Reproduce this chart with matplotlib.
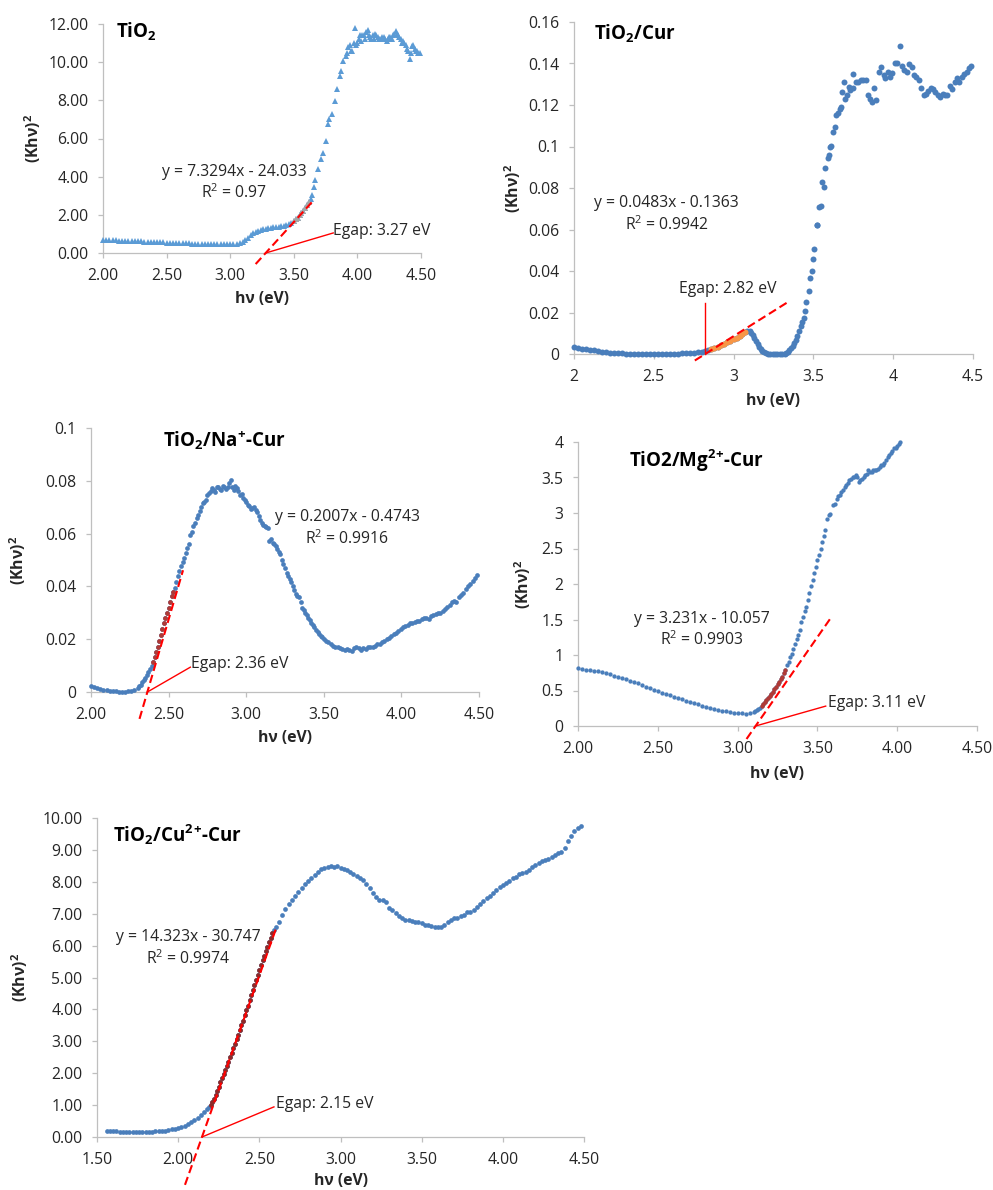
import matplotlib
matplotlib.use("Agg")
import matplotlib.pyplot as plt
import numpy as np

plt.rcParams['font.family'] = ['Open Sans', 'DejaVu Sans']
plt.rcParams['mathtext.default'] = 'regular'

# ------------------------------------------------------------------ data
# Panel 1 : TiO2
tio2_x = [2.000, 2.025, 2.050, 2.075, 2.100, 2.125, 2.150, 2.175, 2.200, 2.225,
          2.250, 2.275, 2.300, 2.325, 2.350, 2.375, 2.400, 2.425, 2.450, 2.475,
          2.500, 2.525, 2.550, 2.575, 2.600, 2.625, 2.650, 2.675, 2.700, 2.725,
          2.750, 2.775, 2.800, 2.825, 2.850, 2.875, 2.900, 2.925, 2.950, 2.975,
          3.000, 3.025, 3.050, 3.075, 3.100, 3.120, 3.140, 3.160, 3.180, 3.200,
          3.220, 3.240, 3.260, 3.280, 3.300, 3.320, 3.340, 3.360, 3.380, 3.400,
          3.420, 3.440, 3.460, 3.480, 3.500, 3.515, 3.530, 3.545, 3.560, 3.575,
          3.590, 3.605, 3.620, 3.635, 3.645, 3.660, 3.670, 3.690, 3.710, 3.730,
          3.750, 3.770, 3.780, 3.800, 3.820, 3.840, 3.860, 3.870, 3.890, 3.910,
          3.920, 3.930, 3.940, 3.950, 3.960, 3.970, 3.980, 3.990, 4.000, 4.010,
          4.020, 4.030, 4.040, 4.050, 4.060, 4.070, 4.080, 4.090, 4.100, 4.110,
          4.120, 4.130, 4.140, 4.150, 4.160, 4.170, 4.180, 4.190, 4.200, 4.210,
          4.220, 4.230, 4.240, 4.250, 4.260, 4.270, 4.280, 4.290, 4.300, 4.310,
          4.320, 4.330, 4.340, 4.350, 4.360, 4.370, 4.380, 4.390, 4.400, 4.410,
          4.420, 4.430, 4.440, 4.450, 4.460, 4.470, 4.480, 4.490]
tio2_y = [0.68, 0.67, 0.67, 0.66, 0.66, 0.65, 0.65, 0.64, 0.63, 0.63,
          0.62, 0.61, 0.61, 0.60, 0.59, 0.59, 0.58, 0.57, 0.57, 0.56,
          0.55, 0.55, 0.54, 0.53, 0.52, 0.51, 0.50, 0.50, 0.49, 0.49,
          0.48, 0.48, 0.48, 0.48, 0.48, 0.48, 0.48, 0.48, 0.48, 0.48,
          0.48, 0.48, 0.49, 0.52, 0.60, 0.68, 0.80, 0.92, 1.03, 1.10,
          1.16, 1.21, 1.25, 1.28, 1.31, 1.33, 1.35, 1.37, 1.38, 1.40,
          1.42, 1.45, 1.50, 1.58, 1.68, 1.76, 1.86, 1.97, 2.10, 2.22,
          2.36, 2.50, 2.66, 2.85, 3.06, 3.45, 3.85, 4.38, 4.90, 5.25,
          5.87, 6.74, 7.00, 7.27, 7.97, 8.58, 9.28, 9.55, 10.07, 10.30,
          10.50, 10.77, 10.90, 10.60, 10.60, 11.00, 11.80, 10.90, 11.00, 11.20,
          11.40, 11.10, 11.40, 11.40, 11.20, 11.60, 11.70, 11.40, 11.30, 11.20,
          11.40, 11.20, 11.50, 11.40, 11.30, 11.20, 11.20, 11.30, 11.20, 11.30,
          11.20, 11.10, 11.20, 11.30, 11.30, 11.20, 11.40, 11.50, 11.65, 11.50,
          11.40, 11.30, 11.20, 11.00, 11.10, 11.00, 10.90, 10.70, 10.60, 10.15,
          10.50, 10.85, 10.90, 10.70, 10.60, 10.60, 10.50, 10.50]

# Panel 2 : TiO2/Cur
cur_x = [2.000, 2.025, 2.050, 2.075, 2.100, 2.125, 2.150, 2.175, 2.200, 2.225,
         2.250, 2.275, 2.300, 2.325, 2.350, 2.375, 2.400, 2.425, 2.450, 2.475,
         2.500, 2.525, 2.550, 2.575, 2.600, 2.625, 2.650, 2.675, 2.700, 2.725,
         2.750, 2.775, 2.800, 2.820, 2.840, 2.860, 2.880, 2.900, 2.920, 2.940,
         2.960, 2.980, 3.000, 3.020, 3.040, 3.055, 3.070, 3.085, 3.100, 3.110,
         3.120, 3.130, 3.140, 3.150, 3.160, 3.170, 3.180, 3.190, 3.200, 3.215,
         3.230, 3.245, 3.260, 3.275, 3.290, 3.305, 3.320, 3.330, 3.340, 3.350,
         3.360, 3.370, 3.380, 3.390, 3.400, 3.410, 3.420, 3.430, 3.440, 3.450,
         3.455, 3.470, 3.480, 3.490, 3.500, 3.505, 3.520, 3.525, 3.535, 3.545,
         3.555, 3.565, 3.575, 3.590, 3.595, 3.605, 3.610, 3.625, 3.635, 3.640,
         3.655, 3.665, 3.675, 3.680, 3.690, 3.700, 3.710, 3.725, 3.730, 3.745,
         3.750, 3.765, 3.780, 3.800, 3.810, 3.830, 3.840, 3.855, 3.870, 3.880,
         3.895, 3.910, 3.925, 3.940, 3.950, 3.965, 3.980, 3.995, 4.010, 4.025,
         4.040, 4.055, 4.070, 4.085, 4.100, 4.115, 4.130, 4.145, 4.160, 4.175,
         4.190, 4.205, 4.220, 4.235, 4.250, 4.265, 4.280, 4.295, 4.310, 4.325,
         4.340, 4.355, 4.370, 4.385, 4.400, 4.415, 4.430, 4.445, 4.460, 4.475,
         4.490]
cur_y = [0.0032, 0.0029, 0.0026, 0.0023, 0.0020, 0.0017, 0.0014, 0.0011, 0.0009, 0.0007,
         0.0005, 0.0004, 0.0003, 0.0002, 0.0002, 0.0002, 0.0002, 0.0002, 0.0002, 0.0002,
         0.0002, 0.0002, 0.0002, 0.0002, 0.0002, 0.0002, 0.0002, 0.0003, 0.0004, 0.0005,
         0.0007, 0.0009, 0.0012, 0.0015, 0.0019, 0.0024, 0.0030, 0.0036, 0.0043, 0.0050,
         0.0057, 0.0064, 0.0070, 0.0077, 0.0085, 0.0095, 0.0105, 0.0113, 0.0110, 0.0102,
         0.0090, 0.0076, 0.0062, 0.0048, 0.0036, 0.0025, 0.0016, 0.0009, 0.0005, 0.0002,
         0.0001, 0.0001, 0.0001, 0.0001, 0.0001, 0.0001, 0.0002, 0.0005, 0.0010, 0.0018,
         0.0028, 0.0040, 0.0055, 0.0068, 0.0085, 0.0110, 0.0133, 0.0152, 0.0173, 0.0205,
         0.0253, 0.0306, 0.0366, 0.0398, 0.0457, 0.0505, 0.0622, 0.0622, 0.0710, 0.0713,
         0.0830, 0.0806, 0.0895, 0.0943, 0.0960, 0.1000, 0.1004, 0.1070, 0.1095, 0.1150,
         0.1160, 0.1180, 0.1190, 0.1263, 0.1310, 0.1230, 0.1247, 0.1287, 0.1270, 0.1348,
         0.1280, 0.1310, 0.1310, 0.1320, 0.1322, 0.1320, 0.1247, 0.1230, 0.1215, 0.1280,
         0.1226, 0.1360, 0.1384, 0.1343, 0.1328, 0.1360, 0.1335, 0.1355, 0.1400, 0.1400,
         0.1485, 0.1390, 0.1368, 0.1360, 0.1396, 0.1384, 0.1343, 0.1335, 0.1320, 0.1284,
         0.1247, 0.1255, 0.1268, 0.1284, 0.1275, 0.1263, 0.1247, 0.1240, 0.1255, 0.1247,
         0.1247, 0.1290, 0.1275, 0.1310, 0.1332, 0.1310, 0.1335, 0.1348, 0.1360, 0.1376,
         0.1390]

# Panel 3 : TiO2/Na+-Cur
na_x = [2.00, 2.02, 2.04, 2.06, 2.08, 2.10, 2.12, 2.14, 2.16, 2.18,
        2.20, 2.22, 2.24, 2.26, 2.28, 2.30, 2.31, 2.32, 2.33, 2.34,
        2.35, 2.36, 2.37, 2.38, 2.39, 2.40, 2.41, 2.42, 2.43, 2.44,
        2.45, 2.46, 2.47, 2.48, 2.49, 2.50, 2.51, 2.52, 2.53, 2.54,
        2.55, 2.56, 2.57, 2.58, 2.59, 2.60, 2.61, 2.62, 2.63, 2.64,
        2.65, 2.66, 2.67, 2.68, 2.69, 2.70, 2.71, 2.72, 2.73, 2.74,
        2.75, 2.76, 2.77, 2.78, 2.79, 2.80, 2.81, 2.82, 2.83, 2.84,
        2.85, 2.86, 2.87, 2.88, 2.89, 2.90, 2.91, 2.92, 2.93, 2.94,
        2.95, 2.96, 2.97, 2.98, 2.99, 3.00, 3.01, 3.02, 3.03, 3.04,
        3.05, 3.06, 3.07, 3.08, 3.09, 3.10, 3.11, 3.12, 3.13, 3.14,
        3.15, 3.16, 3.17, 3.18, 3.19, 3.20, 3.21, 3.22, 3.23, 3.24,
        3.25, 3.26, 3.27, 3.28, 3.29, 3.30, 3.31, 3.32, 3.33, 3.34,
        3.35, 3.36, 3.37, 3.38, 3.39, 3.40, 3.41, 3.42, 3.43, 3.44,
        3.45, 3.46, 3.47, 3.48, 3.49, 3.50, 3.515, 3.53, 3.545, 3.56,
        3.575, 3.59, 3.605, 3.62, 3.635, 3.65, 3.665, 3.68, 3.695, 3.71,
        3.725, 3.74, 3.755, 3.77, 3.785, 3.80, 3.815, 3.83, 3.845, 3.86,
        3.875, 3.89, 3.905, 3.92, 3.935, 3.95, 3.965, 3.98, 3.995, 4.01,
        4.025, 4.04, 4.055, 4.07, 4.085, 4.10, 4.115, 4.13, 4.145, 4.16,
        4.175, 4.19, 4.205, 4.22, 4.235, 4.25, 4.265, 4.28, 4.295, 4.31,
        4.325, 4.34, 4.355, 4.37, 4.385, 4.40, 4.415, 4.43, 4.445, 4.46,
        4.475, 4.49]
na_y = [0.0021, 0.0019, 0.0015, 0.0012, 0.0009, 0.0006, 0.0004, 0.0003, 0.0002, 0.0001,
        0.0001, 0.0001, 0.0002, 0.0004, 0.0008, 0.0015, 0.0021, 0.0028, 0.0036, 0.0044,
        0.0053, 0.0063, 0.0075, 0.0088, 0.0100, 0.0113, 0.0131, 0.0150, 0.0172, 0.0194,
        0.0216, 0.0238, 0.0260, 0.0282, 0.0301, 0.0320, 0.0342, 0.0364, 0.0380, 0.0395,
        0.0417, 0.0439, 0.0458, 0.0477, 0.0492, 0.0508, 0.0527, 0.0546, 0.0560, 0.0596,
        0.0605, 0.0627, 0.0640, 0.0659, 0.0670, 0.0684, 0.0700, 0.0715, 0.0720, 0.0728,
        0.0745, 0.0753, 0.0760, 0.0772, 0.0765, 0.0759, 0.0775, 0.0778, 0.0770, 0.0765,
        0.0780, 0.0778, 0.0770, 0.0778, 0.0790, 0.0803, 0.0775, 0.0765, 0.0780, 0.0772,
        0.0760, 0.0747, 0.0750, 0.0734, 0.0728, 0.0721, 0.0710, 0.0703, 0.0695, 0.0696,
        0.0700, 0.0690, 0.0680, 0.0665, 0.0650, 0.0640, 0.0632, 0.0627, 0.0625, 0.0621,
        0.0571, 0.0580, 0.0565, 0.0560, 0.0552, 0.0540, 0.0530, 0.0521, 0.0500, 0.0483,
        0.0470, 0.0452, 0.0440, 0.0427, 0.0415, 0.0402, 0.0385, 0.0370, 0.0362, 0.0358,
        0.0340, 0.0320, 0.0310, 0.0301, 0.0290, 0.0282, 0.0272, 0.0263, 0.0255, 0.0245,
        0.0235, 0.0226, 0.0220, 0.0213, 0.0207, 0.0201, 0.0195, 0.0188, 0.0180, 0.0176,
        0.0172, 0.0169, 0.0165, 0.0163, 0.0160, 0.0163, 0.0158, 0.0157, 0.0165, 0.0172,
        0.0168, 0.0159, 0.0165, 0.0163, 0.0170, 0.0169, 0.0172, 0.0176, 0.0180, 0.0182,
        0.0190, 0.0194, 0.0200, 0.0205, 0.0212, 0.0220, 0.0225, 0.0232, 0.0238, 0.0245,
        0.0250, 0.0255, 0.0260, 0.0263, 0.0266, 0.0270, 0.0268, 0.0276, 0.0280, 0.0282,
        0.0275, 0.0289, 0.0290, 0.0295, 0.0298, 0.0301, 0.0305, 0.0314, 0.0322, 0.0330,
        0.0340, 0.0345, 0.0340, 0.0358, 0.0368, 0.0376, 0.0390, 0.0402, 0.0410, 0.0420,
        0.0432, 0.0445]

# Panel 4 : TiO2/Mg2+-Cur
mg_x = [2.000, 2.025, 2.050, 2.075, 2.100, 2.125, 2.150, 2.175, 2.200, 2.225,
        2.250, 2.275, 2.300, 2.325, 2.350, 2.375, 2.400, 2.425, 2.450, 2.475,
        2.500, 2.525, 2.550, 2.575, 2.600, 2.625, 2.650, 2.675, 2.700, 2.725,
        2.750, 2.775, 2.800, 2.825, 2.850, 2.875, 2.900, 2.925, 2.950, 2.975,
        3.000, 3.025, 3.050, 3.075, 3.100, 3.110, 3.120, 3.130, 3.140, 3.150,
        3.160, 3.170, 3.180, 3.190, 3.200, 3.210, 3.220, 3.230, 3.240, 3.250,
        3.260, 3.270, 3.280, 3.290, 3.300, 3.310, 3.320, 3.330, 3.340, 3.350,
        3.360, 3.370, 3.380, 3.390, 3.400, 3.410, 3.420, 3.430, 3.440, 3.450,
        3.460, 3.470, 3.480, 3.490, 3.500, 3.510, 3.520, 3.530, 3.540, 3.550,
        3.560, 3.570, 3.580, 3.600, 3.610, 3.620, 3.630, 3.640, 3.650, 3.660,
        3.670, 3.680, 3.690, 3.700, 3.710, 3.720, 3.730, 3.740, 3.750, 3.760,
        3.770, 3.780, 3.790, 3.800, 3.810, 3.820, 3.830, 3.840, 3.850, 3.860,
        3.870, 3.880, 3.890, 3.900, 3.910, 3.920, 3.930, 3.940, 3.950, 3.960,
        3.970, 3.980, 3.990, 4.000, 4.010, 4.020]
mg_y = [0.81, 0.80, 0.79, 0.785, 0.78, 0.77, 0.76, 0.745, 0.73, 0.71,
        0.69, 0.675, 0.66, 0.64, 0.62, 0.60, 0.58, 0.555, 0.53, 0.51,
        0.49, 0.47, 0.45, 0.43, 0.41, 0.39, 0.375, 0.357, 0.34, 0.322,
        0.305, 0.287, 0.27, 0.257, 0.245, 0.23, 0.215, 0.205, 0.197, 0.19,
        0.183, 0.178, 0.174, 0.177, 0.195, 0.21, 0.225, 0.24, 0.26, 0.285,
        0.31, 0.34, 0.366, 0.39, 0.42, 0.45, 0.483, 0.52, 0.553, 0.585,
        0.62, 0.655, 0.69, 0.74, 0.79, 0.86, 0.905, 0.975, 1.02, 1.09,
        1.16, 1.23, 1.28, 1.35, 1.47, 1.54, 1.62, 1.68, 1.77, 1.87,
        1.97, 2.06, 2.15, 2.24, 2.34, 2.41, 2.50, 2.59, 2.67, 2.76,
        2.92, 2.97, 2.99, 3.11, 3.13, 3.20, 3.24, 3.26, 3.30, 3.32,
        3.36, 3.39, 3.42, 3.46, 3.48, 3.51, 3.50, 3.53, 3.50, 3.44,
        3.46, 3.48, 3.50, 3.53, 3.55, 3.60, 3.58, 3.58, 3.61, 3.60,
        3.60, 3.62, 3.65, 3.67, 3.68, 3.70, 3.74, 3.79, 3.82, 3.84,
        3.88, 3.91, 3.92, 3.95, 3.97, 4.00]

# Panel 5 : TiO2/Cu2+-Cur
cu_x = [1.56, 1.58, 1.60, 1.62, 1.64, 1.66, 1.68, 1.70, 1.72, 1.74,
        1.76, 1.78, 1.80, 1.82, 1.84, 1.86, 1.88, 1.90, 1.92, 1.94,
        1.96, 1.98, 2.00, 2.02, 2.04, 2.06, 2.08, 2.10, 2.12, 2.14,
        2.16, 2.18, 2.19, 2.20, 2.21, 2.22, 2.23, 2.24, 2.25, 2.26,
        2.27, 2.28, 2.29, 2.30, 2.31, 2.32, 2.33, 2.34, 2.35, 2.36,
        2.37, 2.38, 2.39, 2.40, 2.41, 2.42, 2.43, 2.44, 2.45, 2.46,
        2.47, 2.48, 2.49, 2.50, 2.51, 2.52, 2.53, 2.54, 2.55, 2.56,
        2.57, 2.58, 2.59, 2.60, 2.62, 2.64, 2.66, 2.68, 2.70, 2.72,
        2.74, 2.76, 2.78, 2.80, 2.82, 2.84, 2.86, 2.88, 2.90, 2.92,
        2.94, 2.96, 2.98, 3.00, 3.02, 3.04, 3.06, 3.08, 3.10, 3.12,
        3.14, 3.16, 3.18, 3.20, 3.22, 3.24, 3.26, 3.28, 3.30, 3.32,
        3.34, 3.36, 3.38, 3.40, 3.42, 3.44, 3.46, 3.48, 3.50, 3.52,
        3.54, 3.56, 3.58, 3.60, 3.62, 3.64, 3.66, 3.68, 3.70, 3.72,
        3.74, 3.76, 3.78, 3.80, 3.82, 3.84, 3.86, 3.88, 3.90, 3.92,
        3.94, 3.96, 3.98, 4.00, 4.02, 4.04, 4.06, 4.08, 4.10, 4.12,
        4.14, 4.16, 4.18, 4.20, 4.22, 4.24, 4.26, 4.28, 4.30, 4.32,
        4.34, 4.36, 4.38, 4.40, 4.42, 4.44, 4.46, 4.48]
cu_y = [0.20, 0.19, 0.18, 0.18, 0.17, 0.17, 0.17, 0.16, 0.16, 0.16,
        0.16, 0.16, 0.16, 0.17, 0.17, 0.18, 0.18, 0.19, 0.20, 0.22,
        0.24, 0.26, 0.28, 0.31, 0.35, 0.40, 0.46, 0.53, 0.60, 0.68,
        0.77, 0.88, 0.94, 1.01, 1.09, 1.19, 1.32, 1.45, 1.58, 1.71,
        1.84, 1.97, 2.10, 2.23, 2.36, 2.50, 2.64, 2.79, 2.93, 3.07,
        3.21, 3.36, 3.50, 3.65, 3.81, 3.97, 4.12, 4.28, 4.45, 4.62,
        4.76, 4.91, 5.07, 5.23, 5.38, 5.54, 5.68, 5.83, 5.97, 6.12,
        6.25, 6.38, 6.49, 6.59, 6.75, 6.96, 7.14, 7.31, 7.43, 7.56,
        7.69, 7.80, 7.93, 8.01, 8.11, 8.22, 8.32, 8.39, 8.42, 8.46,
        8.50, 8.46, 8.48, 8.42, 8.39, 8.37, 8.32, 8.25, 8.19, 8.11,
        8.06, 7.93, 7.80, 7.64, 7.53, 7.43, 7.43, 7.38, 7.17, 7.11,
        7.01, 6.93, 6.85, 6.80, 6.80, 6.78, 6.75, 6.75, 6.72, 6.64,
        6.66, 6.61, 6.57, 6.59, 6.57, 6.64, 6.75, 6.80, 6.85, 6.88,
        6.93, 6.96, 7.04, 7.06, 7.11, 7.22, 7.31, 7.41, 7.48, 7.56,
        7.64, 7.74, 7.83, 7.90, 7.95, 8.04, 8.11, 8.16, 8.25, 8.29,
        8.32, 8.37, 8.46, 8.53, 8.58, 8.64, 8.67, 8.71, 8.79, 8.85,
        8.90, 8.92, 9.06, 9.27, 9.43, 9.58, 9.69, 9.75]

# Linear fits (slope, intercept), drawn x-span and fitted-point span
fit_slope = [7.3294, 0.0483, 0.2007, 3.231, 14.323]
fit_inter = [-24.033, -0.1363, -0.4743, -10.057, -30.747]
fit_r2 = ['0.97', '0.9942', '0.9916', '0.9903', '0.9974']
fit_xspan = [(3.20, 3.657), (2.757, 3.352), (2.3125, 2.593), (3.056, 3.5875), (2.042, 2.607)]
fit_pts_span = [(3.50, 3.63), (2.85, 3.075), (2.40, 2.53), (3.15, 3.30), (2.20, 2.585)]
egap_labels = ['Egap: 3.27 eV', 'Egap: 2.82 eV', 'Egap: 2.36 eV', 'Egap: 3.11 eV', 'Egap: 2.15 eV']

titles = ['TiO$_2$', 'TiO$_2$/Cur', 'TiO$_2$/Na$^{+}$-Cur', 'TiO2/Mg$^{2}$$^{+}$-Cur',
          'TiO$_2$/Cu$^{2}$$^{+}$-Cur']

# ticks
p1_xticks = [2.0, 2.5, 3.0, 3.5, 4.0, 4.5]
p1_xlabels = ['2.00', '2.50', '3.00', '3.50', '4.00', '4.50']
p1_yticks = [0, 2, 4, 6, 8, 10, 12]
p1_ylabels = ['0.00', '2.00', '4.00', '6.00', '8.00', '10.00', '12.00']
p2_xticks = [2.0, 2.5, 3.0, 3.5, 4.0, 4.5]
p2_xlabels = ['2', '2.5', '3', '3.5', '4', '4.5']
p2_yticks = [0, 0.02, 0.04, 0.06, 0.08, 0.10, 0.12, 0.14, 0.16]
p2_ylabels = ['0', '0.02', '0.04', '0.06', '0.08', '0.1', '0.12', '0.14', '0.16']
p3_xticks = [2.0, 2.5, 3.0, 3.5, 4.0, 4.5]
p3_xlabels = ['2.00', '2.50', '3.00', '3.50', '4.00', '4.50']
p3_yticks = [0, 0.02, 0.04, 0.06, 0.08, 0.10]
p3_ylabels = ['0', '0.02', '0.04', '0.06', '0.08', '0.1']
p4_xticks = [2.0, 2.5, 3.0, 3.5, 4.0, 4.5]
p4_xlabels = ['2.00', '2.50', '3.00', '3.50', '4.00', '4.50']
p4_yticks = [0, 0.5, 1, 1.5, 2, 2.5, 3, 3.5, 4]
p4_ylabels = ['0', '0.5', '1', '1.5', '2', '2.5', '3', '3.5', '4']
p5_xticks = [1.5, 2.0, 2.5, 3.0, 3.5, 4.0, 4.5]
p5_xlabels = ['1.50', '2.00', '2.50', '3.00', '3.50', '4.00', '4.50']
p5_yticks = [0, 1, 2, 3, 4, 5, 6, 7, 8, 9, 10]
p5_ylabels = ['0.00', '1.00', '2.00', '3.00', '4.00', '5.00', '6.00', '7.00',
              '8.00', '9.00', '10.00']

# ------------------------------------------------------------------ drawing
W, H = 993, 1190
fig = plt.figure(figsize=(W / 100, H / 100), dpi=100)

def rect(l, t, r, b):
    return [l / W, 1 - b / H, (r - l) / W, (b - t) / H]

GRAY = '#bfbfbf'
TXT = '#262626'
BLUE = '#4a7ebb'
LBLUE = '#5b9bd5'
RED = '#ff0000'
FS = 11.3

def make_axes(r, xt, xl, yt, yl, ylab_x, xlab_y):
    ax = fig.add_axes(r)
    ax.set_xlim(xt[0], xt[-1])
    ax.set_ylim(yt[0], yt[-1])
    ax.set_xticks(xt)
    ax.set_xticklabels(xl)
    ax.set_yticks(yt)
    ax.set_yticklabels(yl)
    for s in ['top', 'right']:
        ax.spines[s].set_visible(False)
    for s in ['left', 'bottom']:
        ax.spines[s].set_color(GRAY)
        ax.spines[s].set_linewidth(0.9)
    ax.tick_params(direction='out', length=3.5, width=0.9, color=GRAY,
                   labelsize=FS, labelcolor=TXT)
    ax.tick_params(axis='x', pad=7)
    ax.tick_params(axis='y', pad=7)
    ax.set_ylabel('(Kh\u03bd)$^2$', fontsize=FS, fontweight='bold', color=TXT)
    ax.set_xlabel('h\u03bd (eV)', fontsize=FS, fontweight='bold', color=TXT)
    ax.yaxis.set_label_coords(ylab_x, 0.5)
    ax.xaxis.set_label_coords(0.5, xlab_y)
    return ax

def draw_panel(ax, i, x, y, color, marker, ms, fitcolor, title_xy, eq_xy, eq_dy,
               eg_end, eg_text_xy, eg_ha='left', vertical=False):
    x = np.asarray(x); y = np.asarray(y)
    ax.plot(x, y, linestyle='none', marker=marker, ms=ms, mew=0, color=color,
            clip_on=False, zorder=3)
    lo, hi = fit_pts_span[i]
    m = (x >= lo) & (x <= hi)
    ax.plot(x[m], y[m], linestyle='none', marker=marker, ms=ms, mew=0,
            color=fitcolor, clip_on=False, zorder=4)
    xs = np.array(fit_xspan[i])
    ax.plot(xs, fit_slope[i] * xs + fit_inter[i], color=RED, lw=1.5,
            linestyle=(0, (4, 2)), clip_on=False, zorder=5)
    x0 = -fit_inter[i] / fit_slope[i]
    if vertical:
        ax.plot([x0, x0], [0, eg_end[1]], color=RED, lw=1.0, clip_on=False, zorder=5)
    else:
        ax.plot([x0, eg_end[0]], [0, eg_end[1]], color=RED, lw=1.0, clip_on=False, zorder=5)
    ax.text(eg_text_xy[0], eg_text_xy[1], egap_labels[i], fontsize=FS, color=TXT,
            ha=eg_ha, va='center', zorder=6)
    sign = '-' if fit_inter[i] < 0 else '+'
    ax.text(eq_xy[0], eq_xy[1], 'y = %gx %s %g' % (fit_slope[i], sign, abs(fit_inter[i])),
            fontsize=FS, color=TXT, ha='center', va='center', zorder=6)
    ax.text(eq_xy[0], eq_xy[1] - eq_dy, 'R$^2$ = ' + fit_r2[i],
            fontsize=FS, color=TXT, ha='center', va='center', zorder=6)
    ax.text(title_xy[0], title_xy[1], titles[i], fontsize=13.5, fontweight='bold',
            color='black', ha='left', va='center', zorder=6)

# Panel 1
ax1 = make_axes(rect(103, 24, 421, 253), p1_xticks, p1_xlabels, p1_yticks, p1_ylabels,
                -0.19, -0.165)
draw_panel(ax1, 0, tio2_x, tio2_y, LBLUE, '^', 5.0, '#a5a5a5',
           (2.10, 11.6), (3.03, 4.24), 1.09, (3.81, 1.05), (3.81, 1.17))

# Panel 2
ax2 = make_axes(rect(574, 22, 973, 354), p2_xticks, p2_xlabels, p2_yticks, p2_ylabels,
                -0.128, -0.117)
draw_panel(ax2, 1, cur_x, cur_y, BLUE, 'o', 4.3, '#f79646',
           (2.127, 0.1545), (2.58, 0.0727), 0.0103, (2.822, 0.0245), (2.966, 0.0313),
           eg_ha='center', vertical=True)

# Panel 3
ax3 = make_axes(rect(91, 428, 479, 692), p3_xticks, p3_xlabels, p3_yticks, p3_ylabels,
                -0.162, -0.144)
draw_panel(ax3, 2, na_x, na_y, BLUE, 'o', 3.4, '#b03a36',
           (2.463, 0.0955), (3.652, 0.0661), 0.0080, (2.64, 0.0094), (2.646, 0.0107))

# Panel 4
ax4 = make_axes(rect(578, 442, 977, 726), p4_xticks, p4_xlabels, p4_yticks, p4_ylabels,
                -0.113, -0.141)
draw_panel(ax4, 3, mg_x, mg_y, BLUE, 'o', 3.1, '#b03a36',
           (2.319, 3.73), (2.777, 1.505), 0.295, (3.552, 0.28), (3.567, 0.33))

# Panel 5
ax5 = make_axes(rect(97, 818, 584, 1137), p5_xticks, p5_xlabels, p5_yticks, p5_ylabels,
                -0.138, -0.113)
draw_panel(ax5, 4, cu_x, cu_y, BLUE, 'o', 3.4, '#8e2a28',
           (1.60, 9.47), (2.06, 6.27), 0.68, (2.59, 0.944), (2.604, 1.05))

fig.savefig('out.png', dpi=100)
